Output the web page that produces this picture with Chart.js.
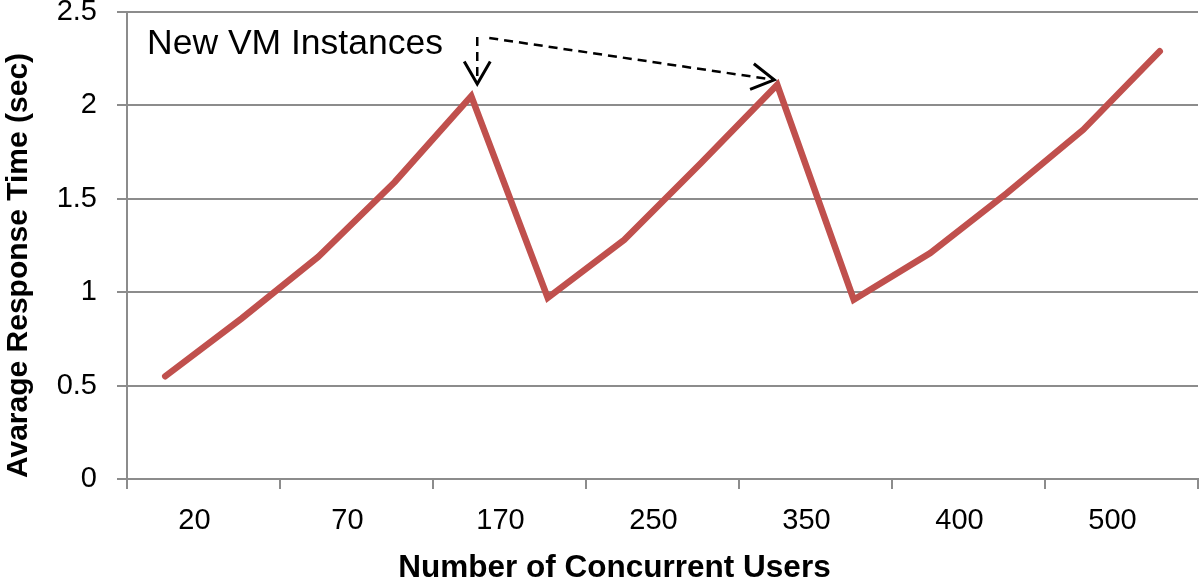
<!DOCTYPE html>
<html>
<head>
<meta charset="utf-8">
<script src="https://cdn.jsdelivr.net/npm/chart.js@4/dist/chart.umd.min.js"></script>
<style>
  html, body { margin: 0; padding: 0; background: #fff; }
  #wrap { width: 1200px; height: 584px; }
</style>
</head>
<body>
<div id="wrap"><canvas id="responseChart" width="1200" height="584"></canvas></div>
<script>
// --- Data ---
const userLabels = ['20', '70', '170', '250', '350', '400', '500'];
const responseTimes = [0.55, 0.86, 1.19, 1.59, 2.05, 0.97, 1.28, 1.69, 2.11, 0.96, 1.21, 1.53, 1.87, 2.29];
const yTicks = [0, 0.5, 1, 1.5, 2, 2.5];
const newVmPoints = [4, 8]; // peaks where new VM instances kick in

const FONT = '"Liberation Sans", Arial, Helvetica, sans-serif';
const GRID = '#8c8c8c';
const LINE_RED = '#C0504D';

// two measurements per user-count band, points sit in the middle of each slot
const points = responseTimes.map((v, i) => ({ x: i + 0.5, y: v }));

function drawArrowHead(ctx, fromX, fromY, tipX, tipY) {
    const ang = Math.atan2(tipY - fromY, tipX - fromX);
    const len = 26, spread = Math.PI / 6;
    ctx.beginPath();
    ctx.moveTo(tipX - len * Math.cos(ang - spread), tipY - len * Math.sin(ang - spread));
    ctx.lineTo(tipX, tipY);
    ctx.lineTo(tipX - len * Math.cos(ang + spread), tipY - len * Math.sin(ang + spread));
    ctx.stroke();
}

// --- titles + "New VM Instances" callout ---
const extrasPlugin = {
    id: 'extras',
    afterDraw(chart) {
        const { ctx, chartArea, scales } = chart;
        const xs = scales.x, ys = scales.y;
        ctx.save();
        ctx.fillStyle = '#000';

        // axis titles
        ctx.font = `bold 31.5px ${FONT}`;
        ctx.textAlign = 'center';
        ctx.textBaseline = 'alphabetic';
        ctx.fillText('Number of Concurrent Users', (chartArea.left + chartArea.right) / 2 - 48, chart.height - 7);

        ctx.font = `bold 30px ${FONT}`;
        ctx.save();
        ctx.translate(27, (chartArea.top + chartArea.bottom) / 2 + 20);
        ctx.rotate(-Math.PI / 2);
        ctx.fillText('Avarage Response Time (sec)', 0, 0);
        ctx.restore();

        // callout text
        ctx.font = `35.5px ${FONT}`;
        ctx.textAlign = 'left';
        ctx.fillText('New VM Instances', chartArea.left + 20, chartArea.top + 42);

        // arrows to the two peaks
        const p1 = { x: xs.getPixelForValue(points[newVmPoints[0]].x) + 6, y: ys.getPixelForValue(points[newVmPoints[0]].y) - 12 };
        const p2 = { x: xs.getPixelForValue(points[newVmPoints[1]].x) - 3, y: ys.getPixelForValue(points[newVmPoints[1]].y) - 5 };
        const startY = chartArea.top + 25;

        ctx.strokeStyle = '#000';
        ctx.lineWidth = 2.5;
        ctx.setLineDash([9, 6]);
        ctx.beginPath();
        ctx.moveTo(p1.x, startY);
        ctx.lineTo(p1.x, p1.y);
        ctx.moveTo(p1.x + 12, startY + 1);
        ctx.lineTo(p2.x, p2.y);
        ctx.stroke();

        ctx.setLineDash([]);
        ctx.lineWidth = 3;
        drawArrowHead(ctx, p1.x, startY, p1.x, p1.y);
        drawArrowHead(ctx, p1.x + 12, startY + 1, p2.x, p2.y);
        ctx.restore();
    }
};

const ctx = document.getElementById('responseChart').getContext('2d');
new Chart(ctx, {
    type: 'line',
    data: {
        datasets: [{
            label: 'Average Response Time',
            data: points,
            borderColor: LINE_RED,
            borderWidth: 6.5,
            pointRadius: 0,
            tension: 0,
            fill: false,
            borderJoinStyle: 'miter',
            borderCapStyle: 'round'
        }]
    },
    options: {
        responsive: false,
        animation: false,
        layout: { padding: { top: 12, right: 2, left: 0, bottom: 0 } },
        plugins: {
            legend: { display: false },
            tooltip: { enabled: false }
        },
        scales: {
            x: {
                type: 'linear',
                min: 0,
                max: userLabels.length * 2,
                afterBuildTicks: scale => {
                    scale.ticks = Array.from({ length: userLabels.length * 2 + 1 }, (_, i) => ({ value: i }));
                },
                afterFit: scale => {
                    scale.height = 105;
                    scale.paddingLeft = 0;
                    scale.paddingRight = 0;
                },
                ticks: {
                    autoSkip: false,
                    maxRotation: 0,
                    padding: 15,
                    labelOffset: -9,
                    color: '#000',
                    font: { family: FONT, size: 29 },
                    callback: v => (v % 2 === 1 ? userLabels[(v - 1) / 2] : '')
                },
                grid: {
                    drawOnChartArea: false,
                    drawTicks: true,
                    tickLength: 10,
                    lineWidth: 2,
                    color: c => (c.tick && c.tick.value % 2 === 0 ? GRID : 'rgba(0,0,0,0)')
                },
                border: { display: true, color: GRID, width: 2 }
            },
            y: {
                min: 0,
                max: yTicks[yTicks.length - 1],
                afterBuildTicks: scale => {
                    scale.ticks = yTicks.map(v => ({ value: v }));
                },
                afterFit: scale => {
                    scale.width = 127;
                    scale.paddingTop = 0;
                    scale.paddingBottom = 0;
                },
                ticks: {
                    padding: 20,
                    color: '#000',
                    font: { family: FONT, size: 29 },
                    callback: v => String(v)
                },
                grid: {
                    color: GRID,
                    lineWidth: 2,
                    tickLength: 10
                },
                border: { display: true, color: GRID, width: 2 }
            }
        }
    },
    plugins: [extrasPlugin]
});
</script>
</body>
</html>
